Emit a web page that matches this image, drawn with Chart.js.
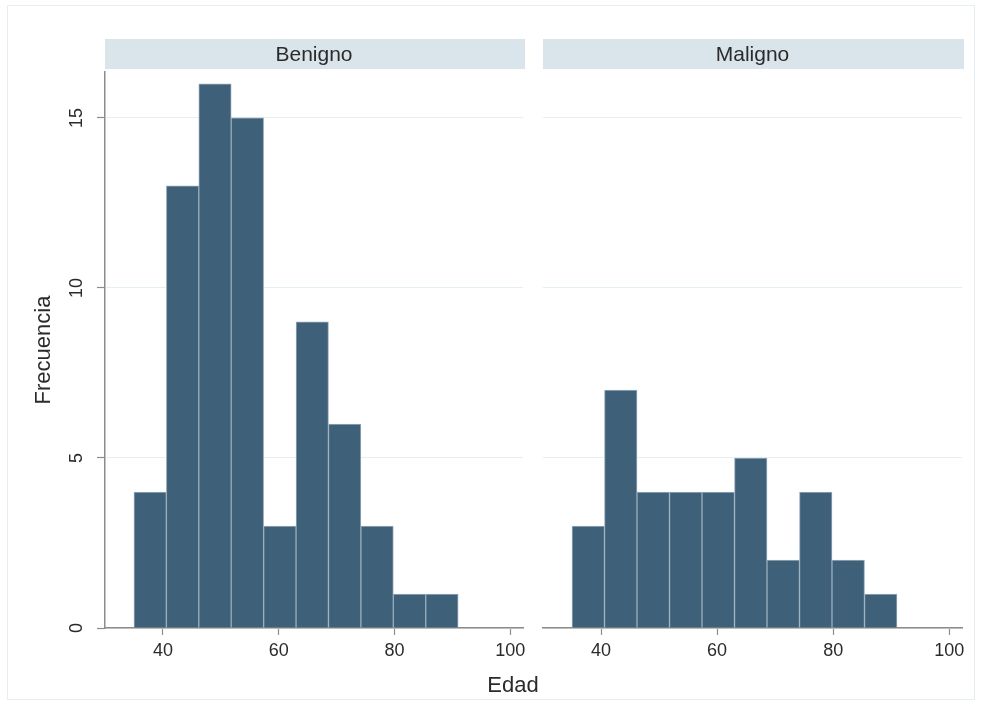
<!DOCTYPE html>
<html>
<head>
<meta charset="utf-8">
<script src="https://cdn.jsdelivr.net/npm/chart.js@4.4.1/dist/chart.umd.min.js"></script>
<style>
  html, body { margin: 0; padding: 0; background: #ffffff; }
  #wrap { position: relative; width: 981px; height: 706px; overflow: hidden; background: #ffffff; }
  #frame { position: absolute; left: 7px; top: 5px; width: 968px; height: 695px; border: 1px solid #e5eef0; box-sizing: border-box; }
  canvas { position: absolute; top: 0; }
  #left { left: 0; }
  #right { left: 530px; }
  #xTitle { position: absolute; left: 413px; width: 200px; top: 672px; text-align: center;
            font: 22px "Liberation Sans", Arial, sans-serif; line-height: 26px; color: #2b2b2b; }
</style>
</head>
<body>
<div id="wrap">
  <div id="frame"></div>
  <canvas id="left" width="545" height="706" style="width:545px;height:706px"></canvas>
  <canvas id="right" width="451" height="706" style="width:451px;height:706px"></canvas>
  <div id="xTitle">Edad</div>
</div>
<script>
// Age histogram (bin width 5.6, from 35 to 91), one panel per diagnosis
const binCenters = [37.8, 43.4, 49.0, 54.6, 60.2, 65.8, 71.4, 77.0, 82.6, 88.2];
const benignoCounts = [4, 13, 16, 15, 3, 9, 6, 3, 1, 1];
const malignoCounts = [3, 7, 4, 4, 4, 5, 2, 4, 2, 1];
const xTicks = [40, 60, 80, 100];
const yTicks = [0, 5, 10, 15];
const panelTitles = ['Benigno', 'Maligno'];
const yTitle = 'Frecuencia';

const FONT = '"Liberation Sans", Arial, sans-serif';
const BAR = '#3e6079';
const BAR_EDGE = '#98acbb';
const AXIS = '#8c8c8c';
const GRID = '#e4eff0';
const TEXT = '#2b2b2b';

// Grey title strip above each plot region
const stripPlugin = {
  id: 'strip',
  beforeDraw(chart, args, opts) {
    const {ctx, chartArea} = chart;
    const top = chartArea.top - 33;
    ctx.save();
    ctx.fillStyle = '#d9e5eb';
    ctx.fillRect(chartArea.left, top, chartArea.right - chartArea.left + 2, 30);
    ctx.fillStyle = TEXT;
    ctx.font = '21px ' + FONT;
    ctx.textAlign = 'center';
    ctx.textBaseline = 'middle';
    ctx.fillText(opts.text, (chartArea.left + chartArea.right) / 2, top + 16);
    ctx.restore();
  }
};

function makePanel(id, title, counts, withYAxis) {
  return new Chart(document.getElementById(id), {
    type: 'bar',
    data: {
      datasets: [{
        data: binCenters.map((c, i) => ({x: c, y: counts[i]})),
        backgroundColor: BAR,
        borderColor: BAR_EDGE,
        borderWidth: 1,
        barPercentage: 1,
        categoryPercentage: 1
      }]
    },
    options: {
      responsive: false,
      animation: false,
      events: [],
      layout: { padding: withYAxis ? {left: 0, top: 72, right: 22, bottom: 0}
                                   : {left: 0, top: 72, right: 19, bottom: 0} },
      plugins: {
        legend: { display: false },
        tooltip: { enabled: false },
        strip: { text: title }
      },
      scales: {
        x: {
          type: 'linear',
          min: 30,
          max: 102.2,
          offset: false,
          afterBuildTicks: s => { s.ticks = xTicks.map(v => ({value: v})); },
          afterFit: s => { s.height = 78; },
          border: { display: true, color: AXIS, width: 1.5 },
          grid: { display: true, drawOnChartArea: false, drawTicks: true, tickLength: 7, tickColor: AXIS, tickWidth: 1.2, offset: false },
          ticks: { color: TEXT, font: { family: FONT, size: 18 }, padding: 5, maxRotation: 0, minRotation: 0 }
        },
        y: {
          type: 'linear',
          min: 0,
          max: 16.35,
          afterBuildTicks: s => { s.ticks = yTicks.map(v => ({value: v})); },
          afterFit: s => { s.width = withYAxis ? 105 : 13; },
          border: { display: withYAxis, color: AXIS, width: 1.5 },
          grid: { color: GRID, lineWidth: 1, drawTicks: withYAxis, tickLength: 8, tickColor: AXIS, tickWidth: 1.2 },
          ticks: { display: withYAxis, color: TEXT, font: { family: FONT, size: 18 }, padding: 10,
                   minRotation: 90, maxRotation: 90, crossAlign: 'center' },
          title: { display: withYAxis, text: yTitle, color: TEXT, font: { family: FONT, size: 22 },
                   padding: { top: 31, bottom: 0 } }
        }
      }
    },
    plugins: [stripPlugin]
  });
}

makePanel('left', panelTitles[0], benignoCounts, true);
makePanel('right', panelTitles[1], malignoCounts, false);
</script>
</body>
</html>
